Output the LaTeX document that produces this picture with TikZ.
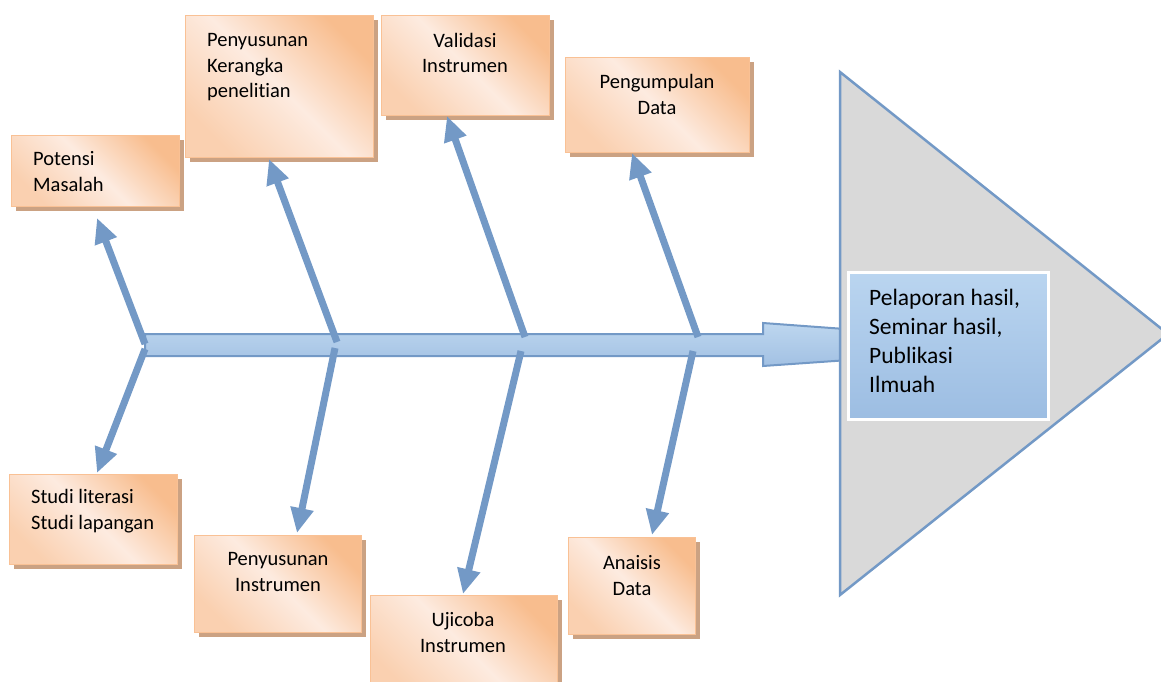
\documentclass[tikz,border=0pt]{standalone}
\usepackage{fontspec}
\setmainfont[Ligatures=NoCommon]{Carlito}
\usetikzlibrary{arrows.meta,shadows}
\definecolor{bonec}{HTML}{7399C6}
\definecolor{boxedge}{HTML}{F9C195}
\definecolor{boxA}{HTML}{FAD0B0}
\definecolor{boxB}{HTML}{F8BD8E}
\definecolor{boxC}{HTML}{FDEBE0}
\definecolor{boxshadow}{HTML}{CBA283}
\definecolor{trifill}{HTML}{D9D9D9}
\definecolor{shaftT}{HTML}{BDD6EF}
\definecolor{shaftB}{HTML}{A2C1E3}
\definecolor{resT}{HTML}{BAD5F0}
\definecolor{resB}{HTML}{9CBDE2}
\begin{document}
\begin{tikzpicture}[x=1pt,y=-1pt,
  box/.style={draw=boxedge, line width=1.3pt, left color=boxA, right color=boxB, middle color=boxC, shading angle=135, anchor=north west, inner sep=0pt, drop shadow={shadow xshift=4.5pt, shadow yshift=-4.5pt, fill=boxshadow, opacity=1}},
  txt/.style={font=\fontsize{20.5}{25.5}\selectfont, text=black, inner sep=0pt},
  bigtxt/.style={font=\fontsize{23.5}{29}\selectfont, text=black, inner sep=0pt, align=left, anchor=base west},
  bone/.style={draw=bonec, line width=7pt, -{Triangle[width=22pt,length=25pt]}},
  shaft/.style={draw=bonec, line width=2pt, top color=shaftT, bottom color=shaftB},
  tri/.style={draw=bonec, line width=2.5pt, fill=trifill, line join=miter},
  res/.style={draw=white, line width=3pt, top color=resT, bottom color=resB, anchor=north west, inner sep=0pt}
]
\useasboundingbox (0,0) rectangle (1161,682);
\clip (0,0) rectangle (1161,682);

% main arrow
\draw[shaft] (145,334) -- (763,334) -- (763,323) -- (1064,345) -- (763,366) -- (763,356) -- (145,356) -- cycle;
% head triangle
\draw[tri] (840,72) -- (1168,334) -- (840,595) -- cycle;
% result box
\node[res, minimum width=200pt, minimum height=147pt] (res) at (847,271) {};
\node[bigtxt] (resT) at (869,392) {Pelaporan hasil,\\Seminar hasil,\\Publikasi\\Ilmuah};

% boxes (text anchored at the baseline of the last line)
\node[box, minimum width=168pt, minimum height=71pt] (pot) at (11,135) {};
\node[txt, align=left, anchor=base west] (potT) at (33,191) {Potensi\\Masalah};

\node[box, minimum width=188pt, minimum height=142pt] (ker) at (185,15) {};
\node[txt, align=left, anchor=base west] (kerT) at (207,98) {Penyusunan\\Kerangka\\penelitian};

\node[box, minimum width=168pt, minimum height=100pt] (val) at (381,15) {};
\node[txt, align=center, anchor=base] (valT) at (465,73) {Validasi\\Instrumen};

\node[box, minimum width=184pt, minimum height=95pt] (pen) at (565,57) {};
\node[txt, align=center, anchor=base] (penT) at (657,114) {Pengumpulan\\Data};

\node[box, minimum width=168pt, minimum height=90pt] (stu) at (9,474) {};
\node[txt, align=left, anchor=base west] (stuT) at (31,529) {Studi literasi\\Studi lapangan};

\node[box, minimum width=167pt, minimum height=97pt] (ins) at (194,535) {};
\node[txt, align=center, anchor=base] (insT) at (278,591) {Penyusunan\\Instrumen};

\node[box, minimum width=187pt, minimum height=100pt] (uji) at (370,595) {};
\node[txt, align=center, anchor=base] (ujiT) at (463,652) {Ujicoba\\Instrumen};

\node[box, minimum width=127pt, minimum height=97pt] (ana) at (568,537) {};
\node[txt, align=center, anchor=base] (anaT) at (632,595) {Anaisis\\Data};

% bone junctions and tips
\coordinate (j1u) at (145,344); \coordinate (t1u) at (97,218);
\coordinate (j1d) at (145,349); \coordinate (t1d) at (97,473);
\coordinate (j2u) at (337,342); \coordinate (t2u) at (269,159);
\coordinate (j2d) at (335,348); \coordinate (t2d) at (297,533);
\coordinate (j3u) at (525,337); \coordinate (t3u) at (447,116);
\coordinate (j3d) at (521,351); \coordinate (t3d) at (463,594);
\coordinate (j4u) at (698,337); \coordinate (t4u) at (632,153);
\coordinate (j4d) at (693,351); \coordinate (t4d) at (652,535);

\draw[bone] (j1u) -- (t1u);
\draw[bone] (j1d) -- (t1d);
\draw[bone] (j2u) -- (t2u);
\draw[bone] (j2d) -- (t2d);
\draw[bone] (j3u) -- (t3u);
\draw[bone] (j3d) -- (t3d);
\draw[bone] (j4u) -- (t4u);
\draw[bone] (j4d) -- (t4d);
\end{tikzpicture}
\end{document}
